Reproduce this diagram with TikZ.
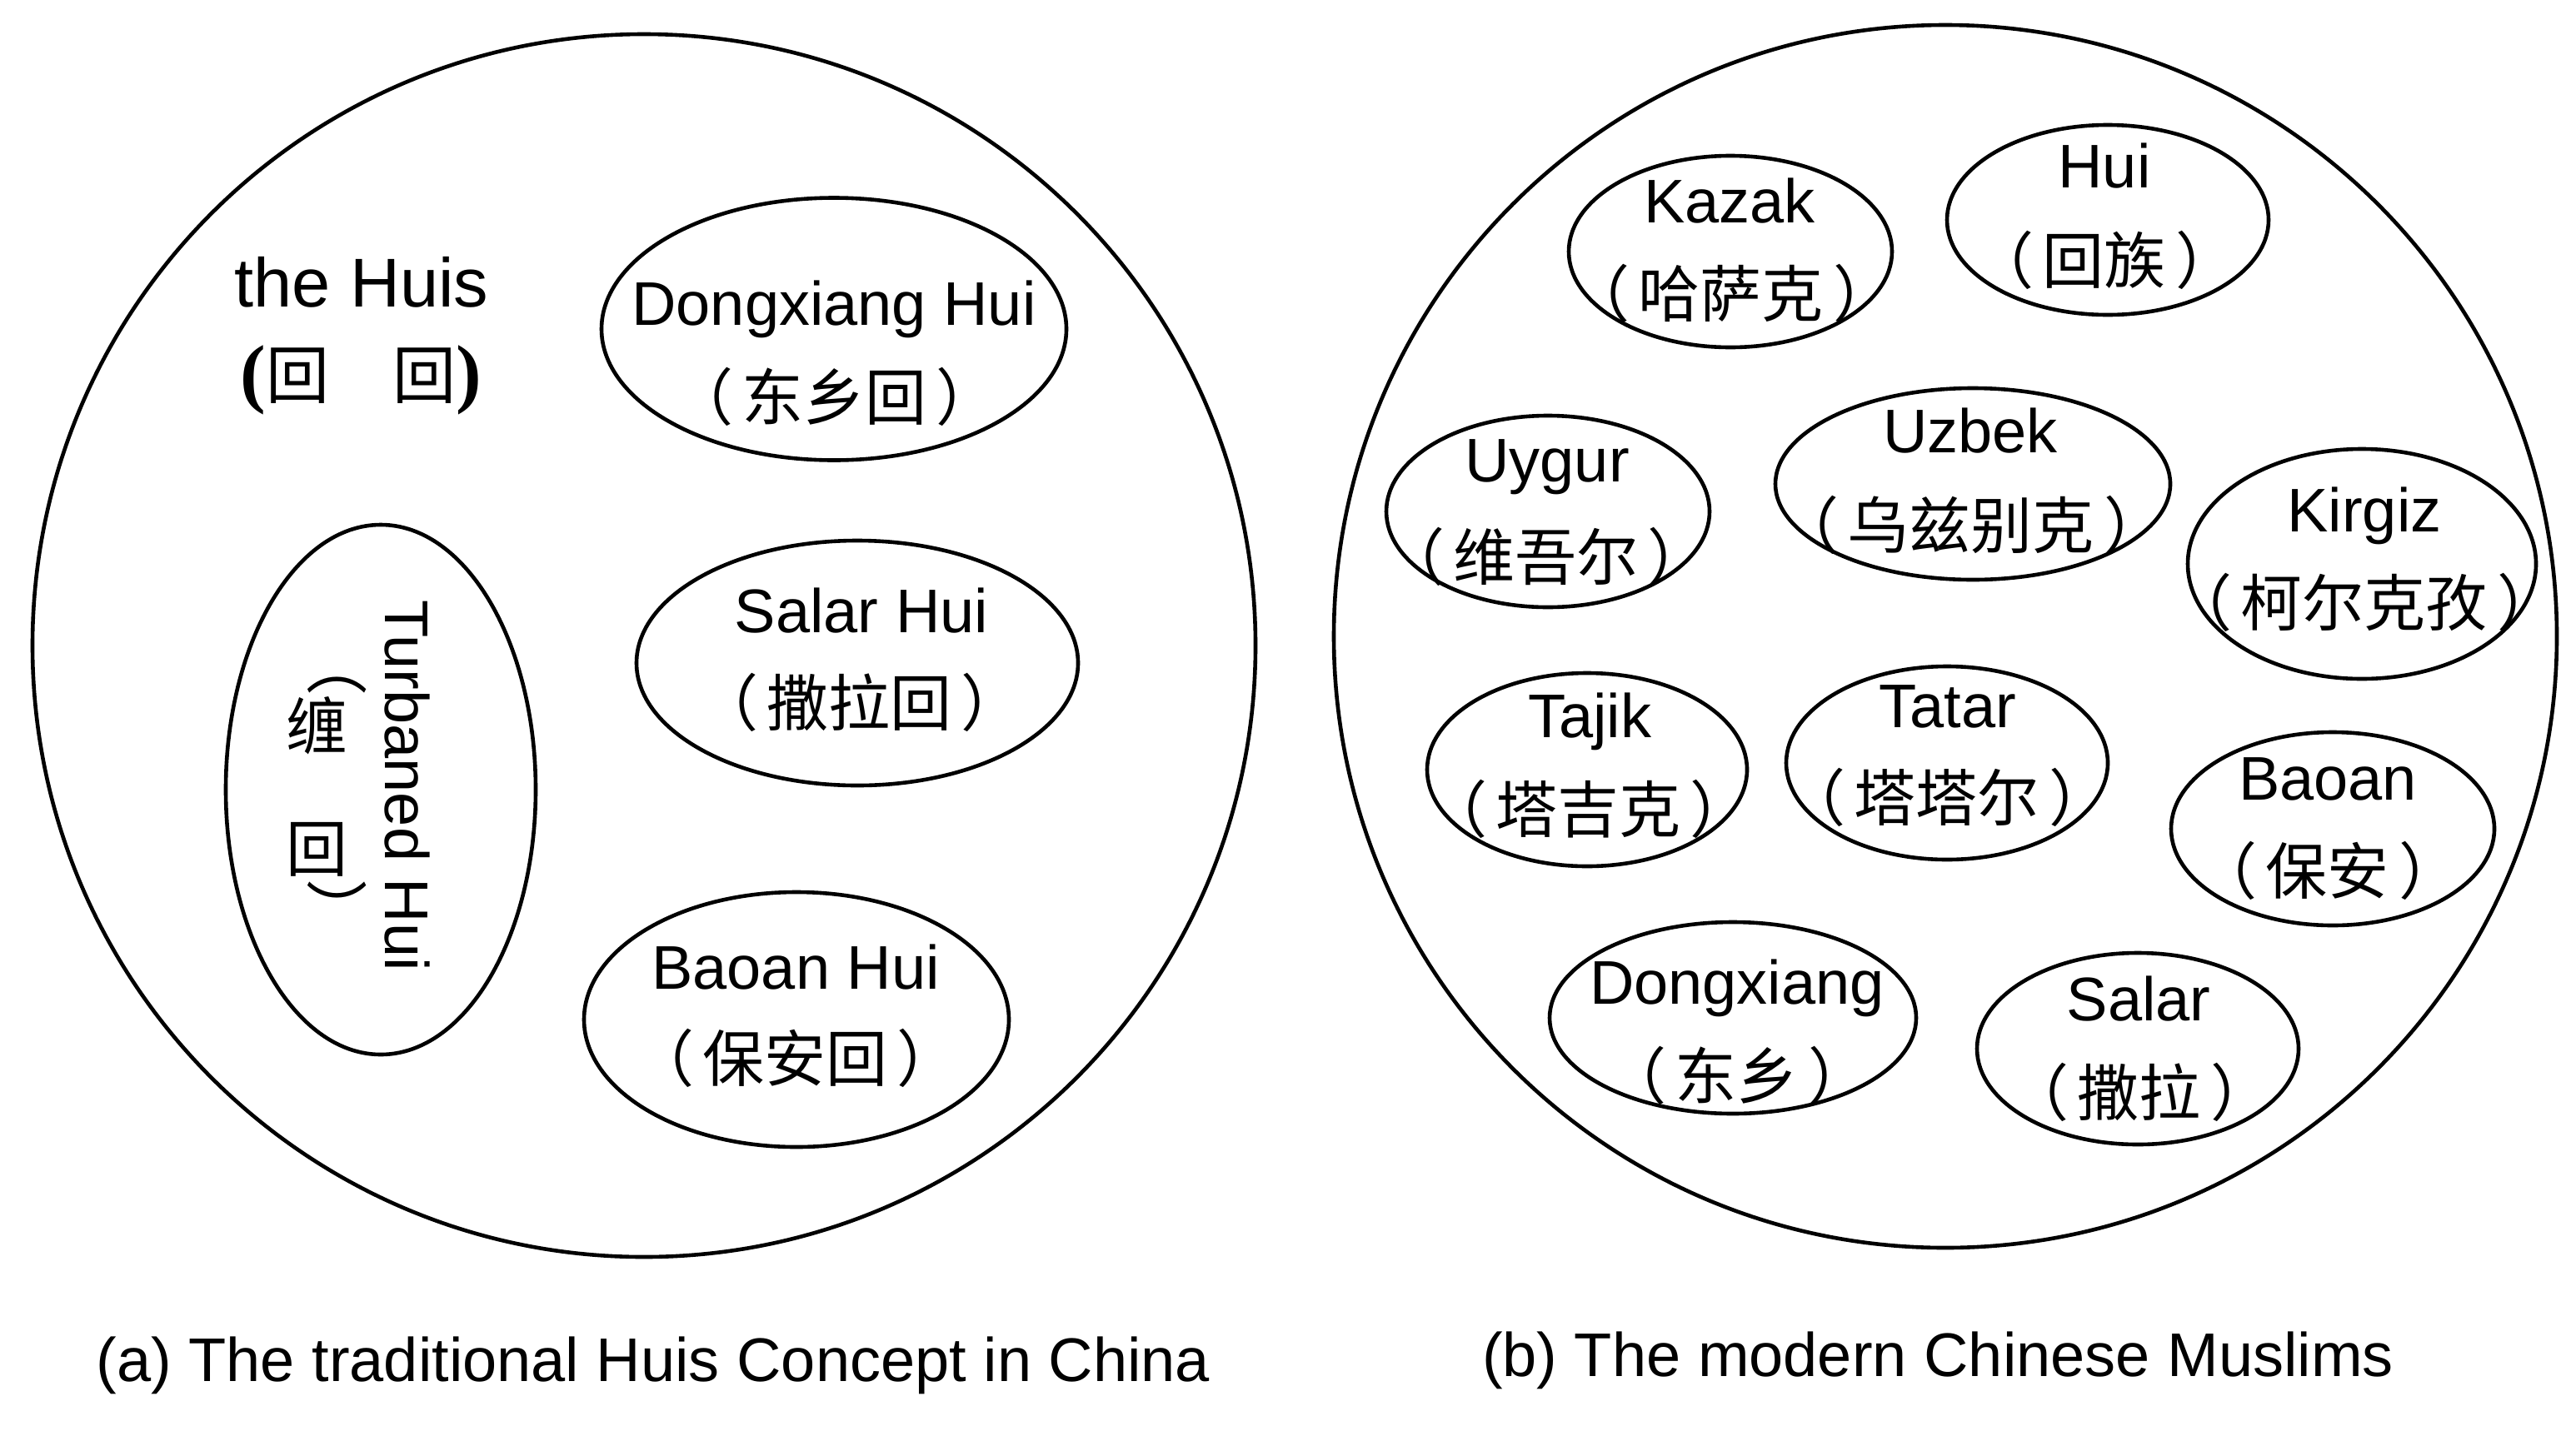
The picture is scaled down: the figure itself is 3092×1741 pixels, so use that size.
\documentclass[tikz,border=0pt]{standalone}
\usepackage{fontspec}
\setmainfont{Liberation Sans}
\newfontfamily\cjk{Noto Sans CJK SC}
\newfontfamily\serifp{Liberation Serif}
\usetikzlibrary{shapes.geometric}
\newcommand\lp{（\hspace{11pt}}
\newcommand\rp{\hspace{11pt}）}
\tikzset{
  grp/.style={draw, line width=4.6pt, ellipse, inner sep=0pt, outer sep=0pt},
  lat/.style={anchor=base, inner sep=0pt, font=\fontsize{74}{74}\selectfont},
  han/.style={anchor=base, inner sep=0pt, font=\cjk\fontsize{74}{74}\selectfont},
  vpar/.style={anchor=center, inner sep=0pt, rotate=-90, text height=0.88em, text depth=0.12em, font=\cjk\fontsize{74}{74}\selectfont},
  captext/.style={anchor=base, inner sep=0pt, font=\fontsize{74}{74}\selectfont},
}
\begin{document}
\begin{tikzpicture}[x=1pt, y=-1pt]
\useasboundingbox (0,0) rectangle (3092,1741);
% ---------- (a) ----------
\node[grp, minimum width=1468pt, minimum height=1468pt] (ca) at (773,775) {};
\node[lat, font=\fontsize{83}{83}\selectfont] (huis) at (434,368) {the Huis};
\node[anchor=base, inner sep=0pt] (huisz) at (433,478)
  {{\serifp\bfseries\fontsize{92}{92}\selectfont(}{\cjk\fontsize{76}{76}\selectfont 回　回}{\serifp\bfseries\fontsize{92}{92}\selectfont)}};

\node[grp, minimum width=558pt, minimum height=315pt] (dxh) at (1001,395) {};
\node[lat] (dxhE) at (1001,390) {Dongxiang Hui};
\node[han] (dxhC) at (1002,504) {\lp 东乡回\rp};

\node[grp, minimum width=372pt, minimum height=636pt] (tbh) at (457,948) {};
\node[lat, rotate=-90] (tbhE) at (462,943) {Turbaned Hui};
\node[vpar] (tbh1) at (380,798) {（};
\node[han] (tbh2) at (380,899) {缠};
\node[han] (tbh3) at (380,1046) {回};
\node[vpar] (tbh4) at (380,1092) {）};

\node[grp, minimum width=530pt, minimum height=294pt] (slh) at (1029,796) {};
\node[lat] (slhE) at (1034,759) {Salar Hui};
\node[han] (slhC) at (1032,871) {\lp 撒拉回\rp};

\node[grp, minimum width=510pt, minimum height=306pt] (bah) at (956,1224) {};
\node[lat] (bahE) at (955,1187) {Baoan Hui};
\node[han] (bahC) at (955,1298) {\lp 保安回\rp};

\node[captext] (capa) at (784,1658) {(a) The traditional Huis Concept in China};

% ---------- (b) ----------
\node[grp, minimum width=1468pt, minimum height=1468pt] (cb) at (2335,764) {};

\node[grp, minimum width=388pt, minimum height=230pt] (kz) at (2077,302) {};
\node[lat] (kzE) at (2076,267) {Kazak};
\node[han] (kzC) at (2078,380) {\lp 哈萨克\rp};

\node[grp, minimum width=386pt, minimum height=228pt] (hu) at (2530,264) {};
\node[lat] (huE) at (2526,225) {Hui};
\node[han] (huC) at (2526,340) {\lp 回族\rp};

\node[grp, minimum width=388pt, minimum height=230pt] (uy) at (1858,614) {};
\node[lat] (uyE) at (1857,578) {Uygur};
\node[han] (uyC) at (1856,696) {\lp 维吾尔\rp};

\node[grp, minimum width=474pt, minimum height=230pt] (uz) at (2368,581) {};
\node[lat] (uzE) at (2365,543) {Uzbek};
\node[han] (uzC) at (2366,658) {\lp 乌兹别克\rp};

\node[grp, minimum width=418pt, minimum height=276pt] (kg) at (2835,677) {};
\node[lat] (kgE) at (2838,638) {Kirgiz};
\node[han] (kgC) at (2838,751) {\lp 柯尔克孜\rp};

\node[grp, minimum width=384pt, minimum height=232pt] (tj) at (1905,924) {};
\node[lat] (tjE) at (1908,885) {Tajik};
\node[han] (tjC) at (1907,999) {\lp 塔吉克\rp};

\node[grp, minimum width=386pt, minimum height=232pt] (tt) at (2337,916) {};
\node[lat] (ttE) at (2338,873) {Tatar};
\node[han] (ttC) at (2337,985) {\lp 塔塔尔\rp};

\node[grp, minimum width=388pt, minimum height=232pt] (ba) at (2800,995) {};
\node[lat] (baE) at (2794,960) {Baoan};
\node[han] (baC) at (2794,1073) {\lp 保安\rp};

\node[grp, minimum width=440pt, minimum height=230pt] (dx) at (2080,1222) {};
\node[lat] (dxE) at (2085,1205) {Dongxiang};
\node[han] (dxC) at (2085,1319) {\lp 东乡\rp};

\node[grp, minimum width=386pt, minimum height=230pt] (sl) at (2566,1259) {};
\node[lat] (slE) at (2567,1225) {Salar};
\node[han] (slC) at (2568,1339) {\lp 撒拉\rp};

\node[captext] (capb) at (2326,1652) {(b) The modern Chinese Muslims};
\end{tikzpicture}
\end{document}
